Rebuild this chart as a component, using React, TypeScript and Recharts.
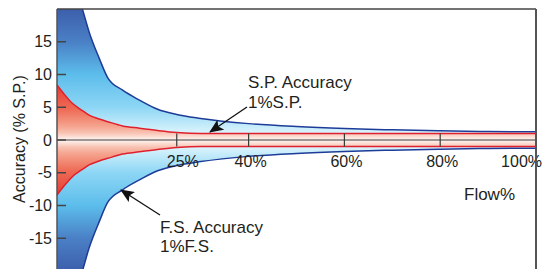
import {
  Area,
  ComposedChart,
  ReferenceLine,
  XAxis,
  YAxis,
} from "recharts";

// flow (% of full scale) and accuracy envelopes (% of set point)
const flowPct = [0, 1.5, 3.2, 5.3, 6.7, 8.8, 10.6, 13.7, 17.2, 21, 25, 30, 40, 50, 60, 70, 80, 90, 100];
const fsUpper = [33, 29.3, 25, 20, 16.5, 12.5, 9.5, 7.6, 6.1, 4.7, 3.9, 3.3, 2.5, 2.05, 1.75, 1.55, 1.4, 1.3, 1.25];
const fsLower = [-33, -29.3, -25, -20, -16.5, -12.5, -9.5, -7.6, -6.1, -4.7, -3.9, -3.3, -2.5, -2.05, -1.75, -1.55, -1.4, -1.3, -1.25];
const spUpper = [8.4, 7.0, 5.6, 4.5, 3.8, 3.2, 2.8, 2.15, 1.8, 1.45, 1.15, 1.0, 1.0, 1.0, 1.0, 1.0, 1.0, 1.0, 1.0];
const spLower = [-8.4, -7.0, -5.6, -4.5, -3.8, -3.2, -2.8, -2.15, -1.8, -1.45, -1.15, -1.0, -1.0, -1.0, -1.0, -1.0, -1.0, -1.0, -1.0];

const flowTicks = [25, 40, 60, 80, 100];
const flowTickLabels = ["25%", "40%", "60%", "80%", "100%"];
const flowLabelShift = [6, 2, 2, 2, 6];
const bandHalf = 1;
const yTicks = [-15, -10, -5, 0, 5, 10, 15];

const data = flowPct.map((f, i) => ({
  flow: f,
  fsUp: fsUpper[i],
  fsDn: fsLower[i],
  spUp: spUpper[i],
  spDn: spLower[i],
}));

const INK = "#231f20";
const FONT = '"Liberation Sans", Arial, Helvetica, sans-serif';

// plot: top 1, zero 132, bottom 263 inside the chart svg
const PLOT_TOP = 1;
const ZERO_Y = 132;
const PLOT_BOTTOM = 263;

function FlowLabel(props: any) {
  const { viewBox, idx } = props;
  if (!viewBox) return null;
  const last = idx === flowTicks.length - 1;
  const x = viewBox.x + flowLabelShift[idx];
  return (
    <text
      x={x}
      y={viewBox.y + viewBox.height + 20.5}
      textAnchor={last ? "end" : "middle"}
      fill={INK}
      fontSize={16}
      fontFamily={FONT}
    >
      {flowTickLabels[idx]}
    </text>
  );
}

export default function App() {
  return (
    <div
      style={{
        position: "absolute",
        left: 0,
        top: 0,
        width: 543,
        height: 269,
        overflow: "hidden",
        background: "#fff",
      }}
    >
      <div style={{ position: "absolute", left: 8, top: 8 }}>
        <ComposedChart
          width={535}
          height={263}
          data={data}
          margin={{ top: 1, right: 7, bottom: 0, left: 0 }}
        >
          <defs>
            <linearGradient id="fsUpFill" gradientUnits="userSpaceOnUse" x1={0} y1={PLOT_TOP} x2={0} y2={ZERO_Y}>
              <stop offset="0" stopColor="#3d5fab" />
              <stop offset="0.25" stopColor="#4a80c6" />
              <stop offset="0.5" stopColor="#5cbdeb" />
              <stop offset="0.75" stopColor="#8dd6f5" />
              <stop offset="0.9" stopColor="#c9edfb" />
              <stop offset="1" stopColor="#f0faff" />
            </linearGradient>
            <linearGradient id="fsDnFill" gradientUnits="userSpaceOnUse" x1={0} y1={PLOT_BOTTOM} x2={0} y2={ZERO_Y}>
              <stop offset="0" stopColor="#3d5fab" />
              <stop offset="0.25" stopColor="#4a80c6" />
              <stop offset="0.5" stopColor="#5cbdeb" />
              <stop offset="0.75" stopColor="#8dd6f5" />
              <stop offset="0.9" stopColor="#c9edfb" />
              <stop offset="1" stopColor="#f0faff" />
            </linearGradient>
            <linearGradient id="spUpFill" gradientUnits="userSpaceOnUse" x1={0} y1={77} x2={0} y2={ZERO_Y}>
              <stop offset="0" stopColor="#e63c34" />
              <stop offset="0.45" stopColor="#ee6c57" />
              <stop offset="0.75" stopColor="#f5a38e" />
              <stop offset="0.87" stopColor="#f8c2b2" />
              <stop offset="1" stopColor="#fff6f2" />
            </linearGradient>
            <linearGradient id="spDnFill" gradientUnits="userSpaceOnUse" x1={0} y1={187} x2={0} y2={ZERO_Y}>
              <stop offset="0" stopColor="#e63c34" />
              <stop offset="0.45" stopColor="#ee6c57" />
              <stop offset="0.75" stopColor="#f5a38e" />
              <stop offset="0.87" stopColor="#f8c2b2" />
              <stop offset="1" stopColor="#fff6f2" />
            </linearGradient>
          </defs>
          <XAxis dataKey="flow" type="number" domain={[0, 100]} hide />
          <YAxis
            type="number"
            domain={[-20, 20]}
            ticks={yTicks}
            allowDataOverflow
            width={49}
            axisLine={{ stroke: "#555", strokeWidth: 1.5 }}
            tickLine={{ stroke: "#444", strokeWidth: 1.5 }}
            tickSize={-9}
            tickMargin={14}
            tick={{ fill: INK, fontSize: 16, fontFamily: FONT }}
          />
          <Area
            type="monotone"
            dataKey="fsUp"
            fill="url(#fsUpFill)"
            fillOpacity={1}
            stroke="#1d3c98"
            strokeWidth={1.5}
            isAnimationActive={false}
          />
          <Area
            type="monotone"
            dataKey="fsDn"
            fill="url(#fsDnFill)"
            fillOpacity={1}
            stroke="#1d3c98"
            strokeWidth={1.5}
            isAnimationActive={false}
          />
          <Area
            type="monotone"
            dataKey="spUp"
            fill="url(#spUpFill)"
            fillOpacity={1}
            stroke="#e0202c"
            strokeWidth={1.5}
            isAnimationActive={false}
          />
          <Area
            type="monotone"
            dataKey="spDn"
            fill="url(#spDnFill)"
            fillOpacity={1}
            stroke="#e0202c"
            strokeWidth={1.5}
            isAnimationActive={false}
          />
          <ReferenceLine y={0} stroke="#3a3a3a" strokeWidth={1.2} />
          {flowTicks.map((f, i) => (
            <ReferenceLine
              key={f}
              segment={[
                { x: f, y: -bandHalf },
                { x: f, y: bandHalf },
              ]}
              stroke="#3a3a3a"
              strokeWidth={1.2}
              label={<FlowLabel idx={i} />}
            />
          ))}
          <ReferenceLine y={20} stroke="#444" strokeWidth={1.5} />
          <ReferenceLine x={100} stroke="#555" strokeWidth={2} />
        </ComposedChart>
      </div>
      <svg
        width={543}
        height={269}
        style={{ position: "absolute", left: 0, top: 0, pointerEvents: "none" }}
        fontFamily={FONT}
        fill={INK}
      >
        <defs>
          <marker
            id="arrowHead"
            markerUnits="userSpaceOnUse"
            markerWidth={14}
            markerHeight={12}
            refX={13}
            refY={6}
            orient="auto"
          >
            <path d="M0,0 L14,6 L0,12 L3,6 Z" fill="#111" />
          </marker>
        </defs>
        <text
          transform="translate(25,139) rotate(-90)"
          textAnchor="middle"
          fontSize={16}
        >
          Accuracy (% S.P.)
        </text>
        <text x={248} y={88} fontSize={17}>S.P. Accuracy</text>
        <text x={248} y={108} fontSize={17}>1%S.P.</text>
        <text x={160} y={233} fontSize={17}>F.S. Accuracy</text>
        <text x={160} y={252} fontSize={17}>1%F.S.</text>
        <text x={464} y={200} fontSize={17}>Flow%</text>
        <line x1={247} y1={107} x2={210} y2={132} stroke="#111" strokeWidth={1.3} markerEnd="url(#arrowHead)" />
        <line x1={160} y1={215} x2={121} y2={190} stroke="#111" strokeWidth={1.3} markerEnd="url(#arrowHead)" />
      </svg>
    </div>
  );
}
